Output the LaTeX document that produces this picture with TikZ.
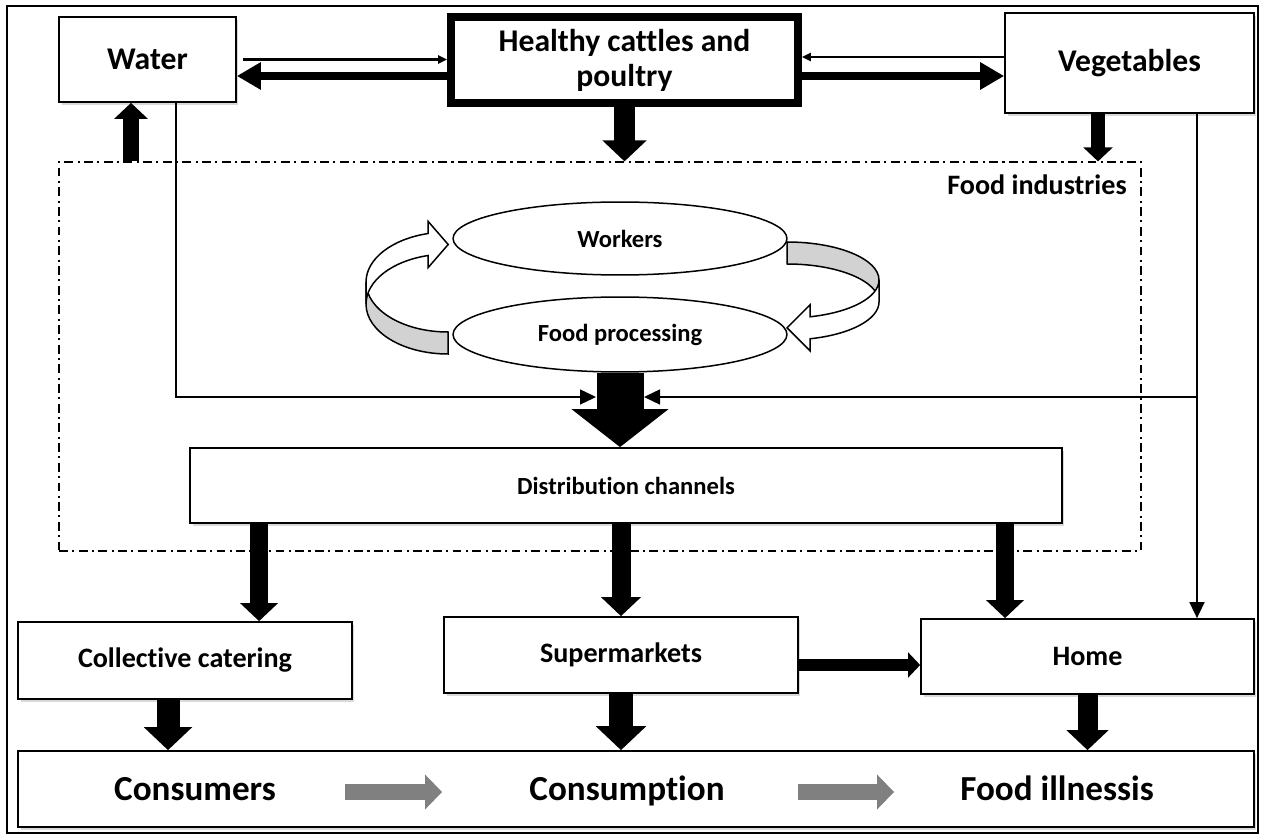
\documentclass[tikz,border=0pt]{standalone}
\usepackage{fontspec}
\setmainfont[Ligatures=NoCommon]{Carlito}
\usetikzlibrary{arrows.meta,shapes.geometric,shadows}

\definecolor{arrowgrey}{RGB}{128,128,128}
\definecolor{ribbongrey}{RGB}{210,210,210}

\tikzset{
  box/.style={draw,line width=.035cm,fill=white,align=center,
    drop shadow={opacity=.3,shadow xshift=.05cm,shadow yshift=-.06cm}},
  oval/.style={draw,ellipse,line width=.03cm,fill=white,
    font=\bfseries\fontsize{14}{16}\selectfont},
  block/.style={line width=#1,-{Triangle[length=0pt 1,width=0pt 2.05]}},
  wide/.style={line width=.15cm,-{Triangle[length=.48cm,width=.52cm]}},
  thintop/.style={line width=.05cm,-{Triangle[length=.18cm,width=.16cm]}},
  thinarr/.style={line width=.03cm,-{Triangle[length=.32cm,width=.3cm]}},
  greyarr/.style={line width=.33cm,draw=arrowgrey,-{Triangle[length=.34cm,width=.68cm]}},
  bigtext/.style={anchor=base,font=\bfseries\fontsize{20}{24}\selectfont},
}

\begin{document}
\begin{tikzpicture}[x=0.02cm,y=-0.02cm]
  \useasboundingbox (0,0) rectangle (1264,837);
  \draw[line width=.03cm] (7,6) rectangle (1258,833);

  % food industries frame
  \node[draw,line width=.025cm,dash pattern=on 5pt off 2.5pt on 1.2pt off 2.5pt,
        minimum width=21.64cm,minimum height=7.78cm] (industry) at (600,356.5) {};
  \node[anchor=east,inner sep=0pt,font=\bfseries\fontsize{16}{19}\selectfont]
        (indlabel) at (1127,185) {Food industries};

  % ribbon arrows round the two ovals
  \draw[line width=.03cm,fill=ribbongrey] (366,282)
      arc[start angle=180,end angle=90,x radius=82,y radius=50] -- ++(0,22)
      arc[start angle=90,end angle=180,x radius=82,y radius=50] -- cycle;
  \draw[line width=.03cm,fill=white] (428.2,233.5)
      arc[start angle=-104,end angle=-180,x radius=82,y radius=50] -- ++(0,22)
      arc[start angle=-180,end angle=-104,x radius=82,y radius=50]
      -- ++(0,12) -- ++(20,-23) -- ++(-20,-23) -- cycle;
  \draw[line width=.03cm,fill=ribbongrey] (787,242)
      arc[start angle=-90,end angle=0,x radius=92,y radius=38] -- ++(0,22)
      arc[start angle=0,end angle=-90,x radius=92,y radius=38] -- cycle;
  \draw[line width=.03cm,fill=white] (879,280)
      arc[start angle=0,end angle=75.5,x radius=92,y radius=38]
      -- ++(0,-12) -- ++(-23,23) -- ++(23,23) -- ++(0,-12)
      arc[start angle=75.5,end angle=0,x radius=92,y radius=38] -- cycle;

  \node[oval,minimum width=6.68cm,minimum height=1.46cm] (workers) at (620,238.5) {Workers};
  \node[oval,minimum width=6.68cm,minimum height=1.5cm] (proc) at (620,334.5) {Food processing};

  % sources
  \node[box,font=\bfseries\fontsize{18}{21}\selectfont,minimum width=3.54cm,minimum height=1.7cm]
        (water) at (147.5,59.5) {Water};
  \node[draw,line width=.16cm,fill=white,align=center,font=\bfseries\fontsize{18}{20}\selectfont,
        minimum width=6.94cm,minimum height=1.72cm] (cattle) at (624.5,60) {Healthy cattles and\\poultry};
  \node[box,font=\bfseries\fontsize{18}{21}\selectfont,minimum width=4.98cm,minimum height=2cm]
        (veg) at (1129.5,63) {Vegetables};

  % channels
  \node[box,font=\bfseries\fontsize{14}{16}\selectfont,minimum width=17.44cm,minimum height=1.5cm]
        (dist) at (626,485.5) {Distribution channels};
  \node[box,font=\bfseries\fontsize{16}{19}\selectfont,minimum width=6.68cm,minimum height=1.54cm]
        (cater) at (185,660.5) {Collective catering};
  \node[box,font=\bfseries\fontsize{16}{19}\selectfont,minimum width=7.08cm,minimum height=1.52cm]
        (market) at (621,655) {Supermarkets};
  \node[box,font=\bfseries\fontsize{16}{19}\selectfont,minimum width=6.66cm,minimum height=1.5cm]
        (home) at (1087.5,656.5) {Home};

  % outcome strip
  \node[box,minimum width=24.72cm,minimum height=1.52cm] (outcome) at (636,789) {};
  \node[bigtext] (consumers) at (195,800) {Consumers};
  \node[bigtext] (consumption) at (627,800) {Consumption};
  \node[bigtext] (illness) at (1057,800) {Food illnessis};

  % top exchanges
  \draw[thintop] ([xshift=.12cm]water.east) -- (water.east -| cattle.west);
  \draw[wide] ([yshift=-.32cm]cattle.west) -- ([yshift=-.32cm]cattle.west -| water.east);
  \draw[thintop] ([yshift=.12cm]veg.west) -- ([yshift=.12cm]veg.west -| cattle.east);
  \draw[wide] ([yshift=-.32cm]cattle.east) -- ([yshift=-.32cm]cattle.east -| veg.west);
  \draw[block=.42cm] (cattle.south) -- (cattle.south |- industry.north);
  \draw[block=.28cm] ([xshift=-.63cm]veg.south) -- ([xshift=-.63cm]veg.south |- industry.north);
  \draw[block=.32cm] ([xshift=-.33cm]water.south |- industry.north) -- ([xshift=-.33cm]water.south);

  % side supplies
  \coordinate (inL) at (596,397);
  \coordinate (inR) at (644,397);
  \draw[thinarr] ([xshift=.57cm]water.south) |- (inL);
  \draw[thinarr] ([xshift=1.35cm]veg.south) -- ([xshift=1.35cm]veg.south |- home.north);
  \draw[thinarr] ([xshift=1.35cm]veg.south |- inR) -- (inR);
  \draw[block=.94cm,-{Triangle[length=.76cm,width=1.9cm]}] (proc.south) -- (proc.south |- dist.north);

  % distribution
  \draw[block=.36cm] ([xshift=-7.34cm]dist.south) -- ([xshift=-7.34cm]dist.south |- cater.north);
  \draw[block=.38cm] (dist.south -| market.north) -- (market.north);
  \draw[block=.36cm] ([xshift=-1.65cm]home.north |- dist.south) -- ([xshift=-1.65cm]home.north);
  \draw[block=.24cm] ([yshift=-.2cm]market.east) -- ([yshift=-.2cm]market.east -| home.west);
  \draw[block=.46cm] ([xshift=-.34cm]cater.south) -- ([xshift=-.34cm]cater.south |- outcome.north);
  \draw[block=.48cm] (market.south) -- (market.south |- outcome.north);
  \draw[block=.4cm] (home.south) -- (home.south |- outcome.north);

  % outcome chain
  \draw[greyarr,shorten <=3cm,shorten >=3.7cm]
        ([yshift=.16cm]consumers.base) -- ([yshift=.16cm]consumption.base);
  \draw[greyarr,shorten <=3.42cm,shorten >=3.26cm]
        ([yshift=.16cm]consumption.base) -- ([yshift=.16cm]illness.base);
\end{tikzpicture}
\end{document}
